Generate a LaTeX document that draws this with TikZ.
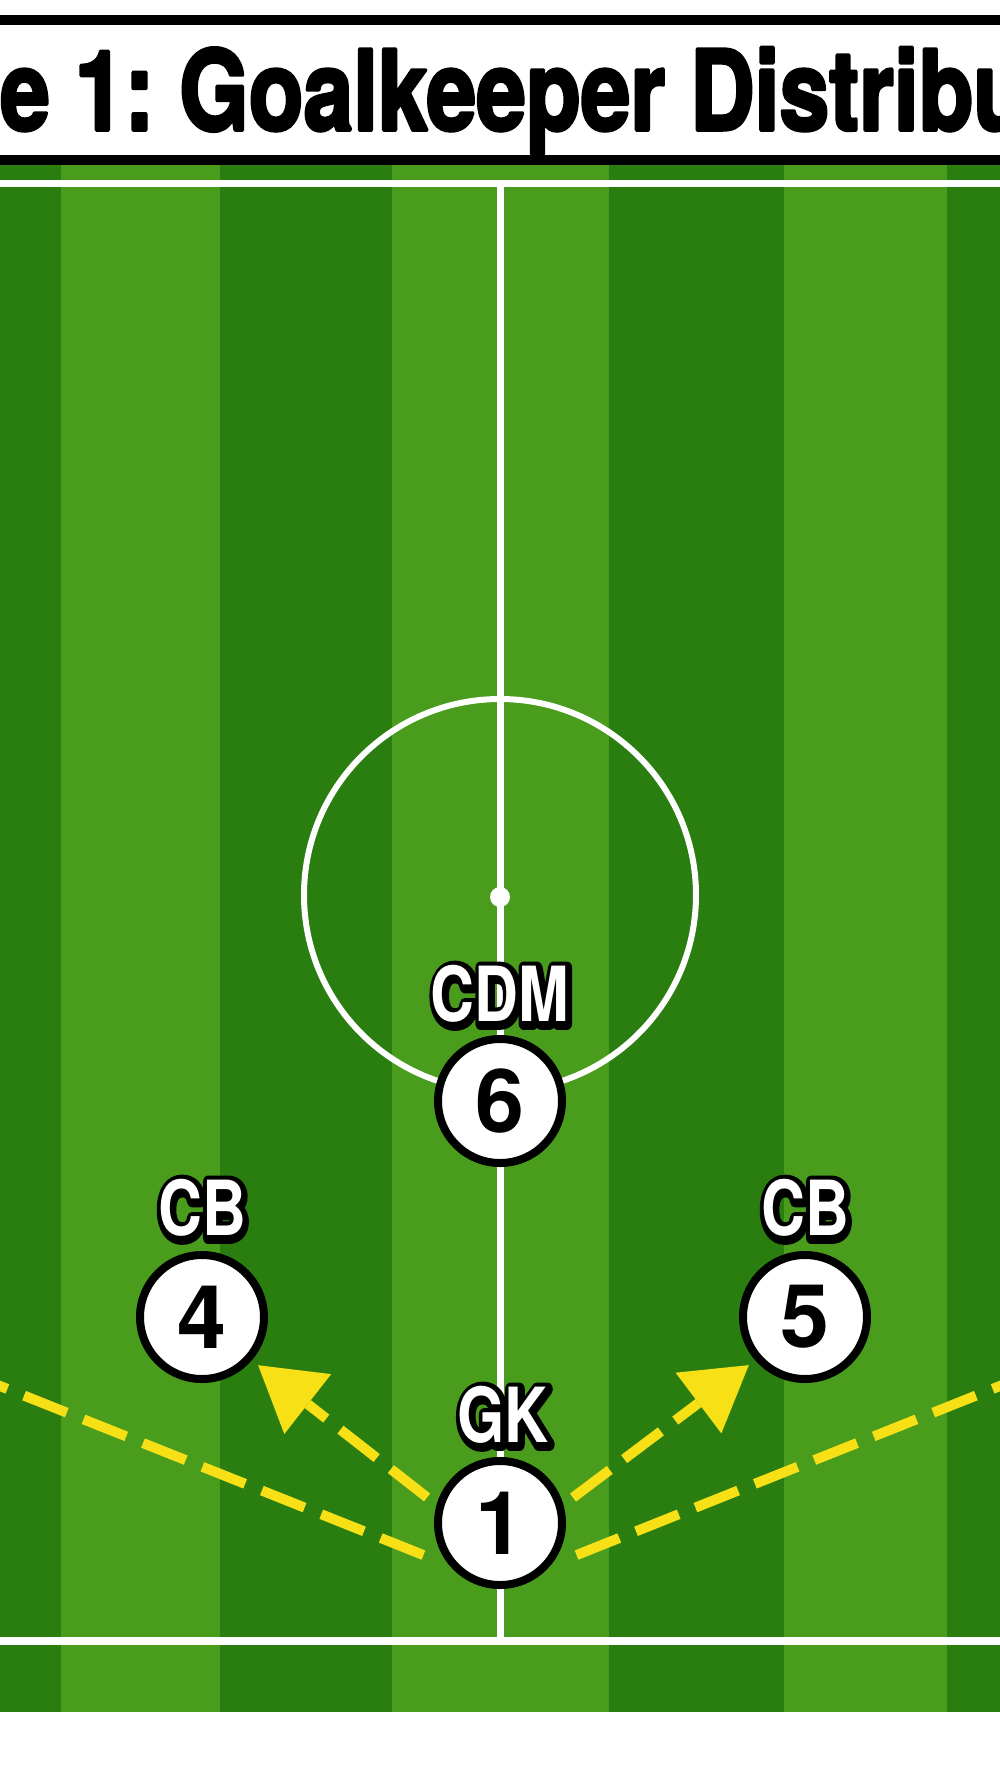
\documentclass[tikz,border=0pt]{standalone}
\usepackage{fontspec}
\setmainfont{TeX Gyre Heros}
\usetikzlibrary{arrows.meta}
\definecolor{turfdark}{RGB}{42,126,16}
\definecolor{turflight}{RGB}{74,156,28}
\definecolor{passyellow}{RGB}{248,224,22}
\newcommand\inkon[1]{\special{pdf:literal direct 2 Tr #1 w 1 j}}
\newcommand\inkoff{\special{pdf:literal direct 0 Tr 1 w 0 j}}
\newcommand\halo[1]{%
  \leavevmode\rlap{\color{black}\hspace*{1.5pt}\raisebox{-1.5pt}{\inkon{13}#1\inkoff}}%
  #1}
\frenchspacing

\begin{document}
\begin{tikzpicture}[x=1pt,y=-1pt]
  \tikzstyle{chalk}=[draw=white,line width=7pt]
  \tikzstyle{player}=[circle,draw=black,fill=white,line width=8pt,minimum size=124pt,
    inner sep=0pt,font=\fontsize{88}{90}\selectfont\bfseries]
  \tikzstyle{role}=[inner sep=0pt,text=white,font=\fontsize{76}{80}\selectfont\bfseries]
  \tikzstyle{pass}=[draw=passyellow,line width=10pt,dash pattern=on 46pt off 18pt]
  \tikzstyle{passtip}=[-{Triangle[length=63pt,width=76pt,line width=0pt]}]
  \useasboundingbox (0,0) rectangle (1000,1792);
  \clip (0,0) rectangle (1000,1792);
  \fill[white] (0,0) rectangle (1000,1792);
  \fill[turfdark] (0,165) rectangle (1000,1712);
  \foreach \from/\to in {61/220,392/609,784/947}
    \fill[turflight] (\from,165) rectangle (\to,1712);
  \draw[line width=10pt,fill=white] (-20,20) rectangle (1020,160);
  \node[anchor=base west,inner sep=0pt,font=\fontsize{111}{120}\selectfont\bfseries]
    (title) at (0,130) {\scalebox{0.806}[1]{\inkon{3.5}e 1: Goalkeeper Distribu\inkoff}};
  \draw[chalk] (0,183.5) -- (1000,183.5);
  \draw[chalk,line width=8pt] (0,1641) -- (1000,1641);
  \draw[chalk] (500,187) -- (500,1637);
  \draw[chalk,line width=6pt] (500,895) circle[radius=196];
  \fill[white] (500,897) circle[radius=10];
  \coordinate (lwing) at (-40,1370);
  \coordinate (rwing) at (1040,1370);
  \node[player] (cdm) at (500,1101) {6};
  \node[player] (lcb) at (202,1317) {4};
  \node[player] (rcb) at (805,1317) {5};
  \node[player] (gk) at (500,1523) {1};
  \node[role] (cdmtag) at (500,995) {\scalebox{0.8}[1]{\halo{CDM}}};
  \node[role] (lcbtag) at (202,1209) {\scalebox{0.8}[1]{\halo{CB}}};
  \node[role] (rcbtag) at (805,1209) {\scalebox{0.8}[1]{\halo{CB}}};
  \node[role] (gktag) at (503,1416) {\scalebox{0.8}[1]{\halo{GK}}};
  \draw[pass,passtip,shorten <=12pt,shorten >=8pt] (gk.164) -- (lcb.-41);
  \draw[pass,passtip,shorten <=12pt,shorten >=8pt] (gk.16) -- (rcb.-139);
  \draw[pass,shorten <=28pt] (gk.220) -- (lwing);
  \draw[pass,shorten <=28pt] (gk.-40) -- (rwing);
\end{tikzpicture}
\end{document}
